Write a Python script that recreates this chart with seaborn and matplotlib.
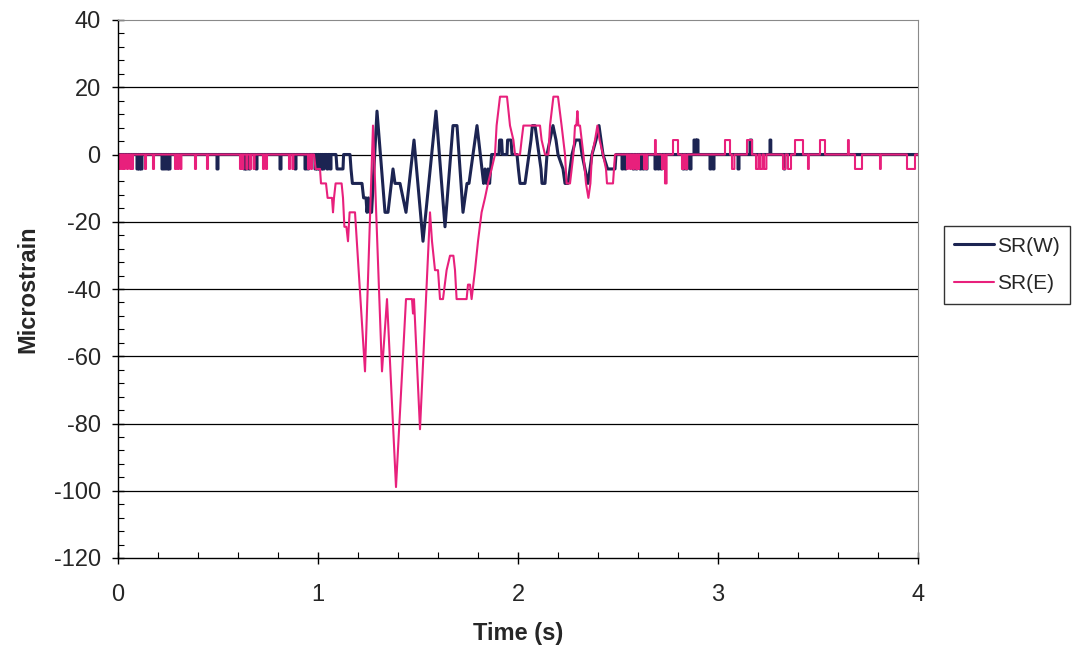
import numpy as np
import pandas as pd
import matplotlib
matplotlib.use("Agg")
import matplotlib.pyplot as plt
import seaborn as sns
from matplotlib.ticker import MultipleLocator

# SR(W) main event (time s, microstrain)
w_evt_t = [1.090, 1.095, 1.125, 1.128, 1.160, 1.165, 1.172, 1.220, 1.228, 1.240,
           1.245, 1.252, 1.258, 1.268, 1.295, 1.335, 1.350, 1.375, 1.385, 1.410,
           1.440, 1.480, 1.525, 1.590, 1.635, 1.675, 1.695, 1.725, 1.745, 1.755,
           1.795, 1.820, 1.828, 1.835, 1.842, 1.850, 1.858, 1.868, 1.905, 1.908,
           1.918, 1.922, 1.945, 1.948, 1.965, 1.970, 1.995, 2.002, 2.010, 2.035,
           2.045, 2.055, 2.065, 2.072, 2.085, 2.095, 2.105, 2.115, 2.120, 2.135,
           2.145, 2.160, 2.175, 2.190, 2.200, 2.225, 2.235, 2.250, 2.260, 2.270,
           2.288, 2.310, 2.320, 2.335, 2.350, 2.360, 2.370, 2.390, 2.405, 2.415,
           2.425, 2.448, 2.485, 2.490]
w_evt_v = [0, -4.3, -4.3, 0, 0, -4.3, -8.6, -8.6, -12.9, -12.9,
           -17.2, -12.9, -17.2, -17.2, 12.9, -17.2, -17.2, -4.3, -8.6, -8.6,
           -17.2, 4.3, -25.8, 12.9, -21.5, 8.6, 8.6, -17.2, -8.6, -8.6,
           8.6, -4.3, -8.6, -4.3, -8.6, -4.3, -8.6, 0, 0, 4.3,
           4.3, 0, 0, 4.3, 4.3, 0, 0, -4.3, -8.6, -8.6,
           -4.3, 0, 4.3, 8.6, 8.6, 4.3, 0, -4.3, -8.6, -8.6,
           0, 4.3, 8.6, 4.3, 0, -4.3, -8.6, -8.6, -4.3, 0,
           4.3, 4.3, 0, -4.3, -8.6, -4.3, 0, 4.3, 8.6, 4.3,
           0, -4.3, -4.3, 0]

# SR(W) background noise spikes: start time, duration, level
w_spk_t = [0.095, 0.105, 0.115, 0.220, 0.232, 0.245, 0.255, 0.495, 0.630, 0.640,
           0.655, 0.690, 0.810, 0.885, 0.935, 0.948, 0.985, 0.995, 1.005, 1.015,
           1.025, 1.045, 1.060,
           2.520, 2.535, 2.575, 2.590, 2.610, 2.625, 2.640, 2.685, 2.700, 2.715,
           2.825, 2.840, 2.860, 2.880, 2.895, 2.960, 2.975, 3.100, 3.160, 3.260,
           3.330, 3.345, 3.360, 3.445, 3.520, 3.585]
w_spk_w = [0.005] * 41 + [0.008, 0.004, 0.004]
w_spk_v = [-4.3] * 41 + [4.3, 4.3, -4.3]
w_spk_v[41 - 5] = 4.3   # 3.160
w_spk_v[41 - 4] = 4.3   # 3.260
w_spk_w[41 - 5] = 0.012

# SR(E) main event
e_evt_t = [0.980, 0.988, 1.010, 1.015, 1.040, 1.048, 1.070, 1.075, 1.080, 1.088,
           1.118, 1.125, 1.132, 1.142, 1.150, 1.158, 1.185, 1.235, 1.275, 1.320,
           1.345, 1.390, 1.440, 1.470, 1.475, 1.480, 1.510, 1.560, 1.570, 1.585,
           1.600, 1.610, 1.625, 1.643, 1.660, 1.677, 1.685, 1.693, 1.743, 1.750,
           1.760, 1.768, 1.785, 1.800, 1.818, 1.835, 1.850, 1.868, 1.885, 1.893,
           1.910, 1.945, 1.960, 1.977, 1.985, 2.010, 2.018, 2.027, 2.110, 2.118,
           2.135, 2.152, 2.160, 2.177, 2.200, 2.218, 2.235, 2.243, 2.260, 2.277,
           2.285, 2.292, 2.297, 2.302, 2.310, 2.327, 2.340, 2.352, 2.362, 2.370,
           2.385, 2.397, 2.408, 2.425, 2.440, 2.445, 2.475, 2.485]
e_evt_v = [0, -4.3, -4.3, -8.6, -8.6, -12.9, -12.9, -17.2, -12.9, -8.6,
           -8.6, -12.9, -21.5, -21.5, -25.8, -17.2, -17.2, -64.5, 8.6, -64.5,
           -43.0, -98.9, -43.0, -43.0, -47.3, -43.0, -81.7, -17.2, -25.8, -34.4,
           -34.4, -43.0, -43.0, -34.4, -30.1, -30.1, -34.4, -43.0, -43.0, -38.7,
           -38.7, -43.0, -34.4, -25.8, -17.2, -12.9, -8.6, -4.3, 0, 8.6,
           17.2, 17.2, 8.6, 4.3, 0, 0, 4.3, 8.6, 8.6, 4.3,
           0, 0, 8.6, 17.2, 17.2, 8.6, 0, -8.6, -8.6, 0,
           8.6, 8.6, 12.9, 8.6, 8.6, 0, -8.6, -12.9, -8.6, 0,
           4.3, 8.6, 4.3, 0, -4.3, -8.6, -8.6, 0]

# SR(E) background noise spikes
e_spk_t = [0.005, 0.018, 0.030, 0.045, 0.060, 0.070, 0.135, 0.175, 0.285, 0.298,
           0.312, 0.385, 0.445, 0.610, 0.622, 0.642, 0.660, 0.678, 0.725, 0.740,
           0.855, 0.872, 0.950, 0.965,
           2.545, 2.560, 2.575, 2.590, 2.600, 2.630, 2.640, 2.685, 2.720, 2.735,
           2.775, 2.820, 2.838, 3.035, 3.070, 3.145, 3.190, 3.210, 3.230, 3.325,
           3.350, 3.385, 3.450, 3.510, 3.650, 3.685, 3.810, 3.945]
e_spk_w = [0.005] * 24 + [0.005, 0.005, 0.005, 0.005, 0.005, 0.005, 0.005, 0.004, 0.008, 0.008,
                          0.025, 0.008, 0.008, 0.025, 0.012, 0.025, 0.012, 0.012, 0.012, 0.012,
                          0.015, 0.040, 0.004, 0.025, 0.004, 0.035, 0.004, 0.040]
e_spk_v = [-4.3] * 24 + [-4.3, -4.3, -4.3, -4.3, -4.3, -4.3, -4.3, 4.3, -4.3, -8.6,
                         4.3, -4.3, -4.3, 4.3, -4.3, 4.3, -4.3, -4.3, -4.3, -4.3,
                         -4.3, 4.3, -4.3, 4.3, 4.3, -4.3, -4.3, -4.3]


def trace(evt_t, evt_v, spk_t, spk_w, spk_v):
    # join the square noise pulses and the event into one polyline
    pieces = [(t0, [t0, t0, t0 + w, t0 + w], [0, v, v, 0])
              for t0, w, v in zip(spk_t, spk_w, spk_v)]
    pieces.append((evt_t[0], list(evt_t), list(evt_v)))
    pieces.sort(key=lambda p: p[0])
    t, v = [0.0], [0.0]
    for _, pt, pv in pieces:
        t += pt
        v += pv
    t.append(4.0)
    v.append(0.0)
    return pd.DataFrame({"t": t, "v": v})


df_w = trace(w_evt_t, w_evt_v, w_spk_t, w_spk_w, w_spk_v)
df_e = trace(e_evt_t, e_evt_v, e_spk_t, e_spk_w, e_spk_v)

sns.set_style("white")
plt.rcParams["font.family"] = ["Liberation Sans", "DejaVu Sans"]
plt.rcParams["axes.unicode_minus"] = False

fig = plt.figure(figsize=(10.81, 6.51), dpi=100)
ax = fig.add_axes([118 / 1081, 1 - 558 / 651, 800 / 1081, 538 / 651])

navy = "#1c2452"
pink = "#e8207c"
sns.lineplot(data=df_w, x="t", y="v", sort=False, estimator=None, color=navy,
             lw=2.2, label="SR(W)", ax=ax)
sns.lineplot(data=df_e, x="t", y="v", sort=False, estimator=None, color=pink,
             lw=1.5, label="SR(E)", ax=ax)

ax.set_xlim(0, 4)
ax.set_ylim(-120, 40)
ax.xaxis.set_major_locator(MultipleLocator(1))
ax.xaxis.set_minor_locator(MultipleLocator(0.2))
ax.yaxis.set_major_locator(MultipleLocator(20))
ax.yaxis.set_minor_locator(MultipleLocator(4))
ax.tick_params(which="both", bottom=True, left=True, top=False, right=False)
ax.tick_params(which="major", direction="inout", length=9, width=1, color="black",
               labelsize=17, pad=8)
ax.tick_params(axis="x", which="major", pad=14)
ax.tick_params(which="minor", direction="in", length=4, width=0.8, color="black")

for y in range(-100, 40, 20):
    ax.axhline(y, color="black", lw=0.9, zorder=0)

for s in ["left", "bottom"]:
    ax.spines[s].set_color("black")
    ax.spines[s].set_linewidth(1.0)
for s in ["top", "right"]:
    ax.spines[s].set_color("#8a8a8a")
    ax.spines[s].set_linewidth(0.8)

ax.set_xlabel("Time (s)", fontsize=17, fontweight="bold", labelpad=12)
ax.set_ylabel("Microstrain", fontsize=17, fontweight="bold", labelpad=10)

handles, labels = ax.get_legend_handles_labels()
ax.get_legend().remove()
leg = fig.legend(handles, labels, loc="center left",
                 bbox_to_anchor=(944 / 1081, 1 - 265 / 651), fontsize=15,
                 frameon=True, fancybox=False, edgecolor="black",
                 handlelength=1.9, handletextpad=0.15, labelspacing=0.9,
                 borderpad=0.5, borderaxespad=0)
leg.get_frame().set_linewidth(1.0)

fig.savefig("out.png", dpi=100)
